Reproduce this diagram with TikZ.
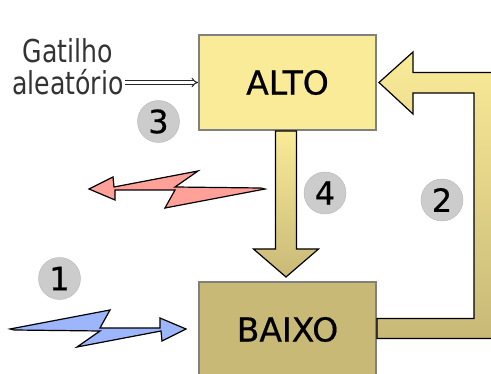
\documentclass[tikz,border=0pt]{standalone}
\usepackage{fontspec}
\setmainfont{DejaVu Sans}
\newfontfamily\gatfont[FakeStretch=0.8]{DejaVu Sans}
\newfontfamily\cheiafont[FakeBold=0.6]{DejaVu Sans}
\usepackage{tikz}
\usetikzlibrary{arrows.meta,calc}

\definecolor{altocor}{HTML}{FAEB98}
\definecolor{baixocor}{HTML}{C8B977}
\definecolor{azul}{HTML}{9DB6FB}
\definecolor{rosa}{HTML}{FFA198}
\definecolor{etapacor}{HTML}{CCCCCC}
\definecolor{etapaborda}{HTML}{B5B5B5}

% lightning bolt, tail at (0,0), head pointing along +x
\newcommand{\raio}{(0,0) -- (100,-19) -- (90,-1) -- (150,-1) -- (150,-11) -- (176,0) -- (152,12) -- (151,2) -- (67,18) -- (90,2) -- (4,1) -- cycle}

\begin{document}
\begin{tikzpicture}[x=1pt, y=-1pt,
	estado/.style={draw=black!50, line width=2pt, minimum width=177pt, minimum height=95pt, inner sep=0pt, font=\cheiafont\fontsize{33}{33}\selectfont},
	etapa/.style={circle, fill=etapacor, draw=etapaborda, minimum size=42pt, inner sep=0pt, font=\cheiafont\fontsize{32}{32}\selectfont},
	seta/.style={draw=black, line width=1.2pt, top color=altocor, bottom color=baixocor},
	raiolinha/.style={draw=black, line width=1.2pt, line join=miter}]
	\useasboundingbox (0,0) rectangle (491,374);
	\clip (0,0) rectangle (491,374);

	% Draw states
	%ALTO
	\node[estado, fill=altocor] (alto) at (287.5,82.5) {ALTO};
	%BAIXO
	\node[estado, fill=baixocor] (baixo) at (287.5,329.5) {BAIXO};

	% Trigger text and its arrow
	\node[align=center, text=black!80, font=\gatfont\fontsize{31.5}{32}\selectfont, inner sep=1pt] (gatilho) at (68,67) {Gatilho\\aleatório};
	\draw[black!85, line width=1pt, double, double distance=2.2pt, -{Implies[scale=1.6]}] (gatilho.east |- alto.west) -- (alto.west);

	% Decay arrow ALTO -> BAIXO
	\draw[seta] ($(alto.south)+(-12,0)$) -- ++(0,118) -- ++(-22,0) -- ($(baixo.north)+(-1.5,-4)$)
		-- ($(alto.south)+(31,118)$) -- ++(-22,0) -- ($(alto.south)+(9,0)$) -- cycle;

	% Pump arrow BAIXO -> ALTO
	\draw[seta] ($(baixo.east)+(0,-11)$) -- ++(97,0) |- ($(alto.east)+(36,10.5)$) -- ++(0,21)
		-- ($(alto.east)+(2,0)$) -- ($(alto.east)+(36,-30.5)$) -- ++(0,20.5) -- ++(83,0)
		|- ($(baixo.east)+(0,9)$) -- cycle;

	% Emitted photon
	\begin{scope}[shift={(265,189)}, rotate=180]
		\draw[raiolinha, fill=rosa] \raio;
	\end{scope}
	% Incoming photon
	\begin{scope}[shift={(10,329)}]
		\draw[raiolinha, fill=azul] \raio;
	\end{scope}

	% Step numbers
	\node[etapa] (um) at (59.5,278.5) {1};
	\node[etapa] (dois) at (442,200) {2};
	\node[etapa] (tres) at (158.5,121.5) {3};
	\node[etapa] (quatro) at (325,193) {4};

\end{tikzpicture}
\end{document}
